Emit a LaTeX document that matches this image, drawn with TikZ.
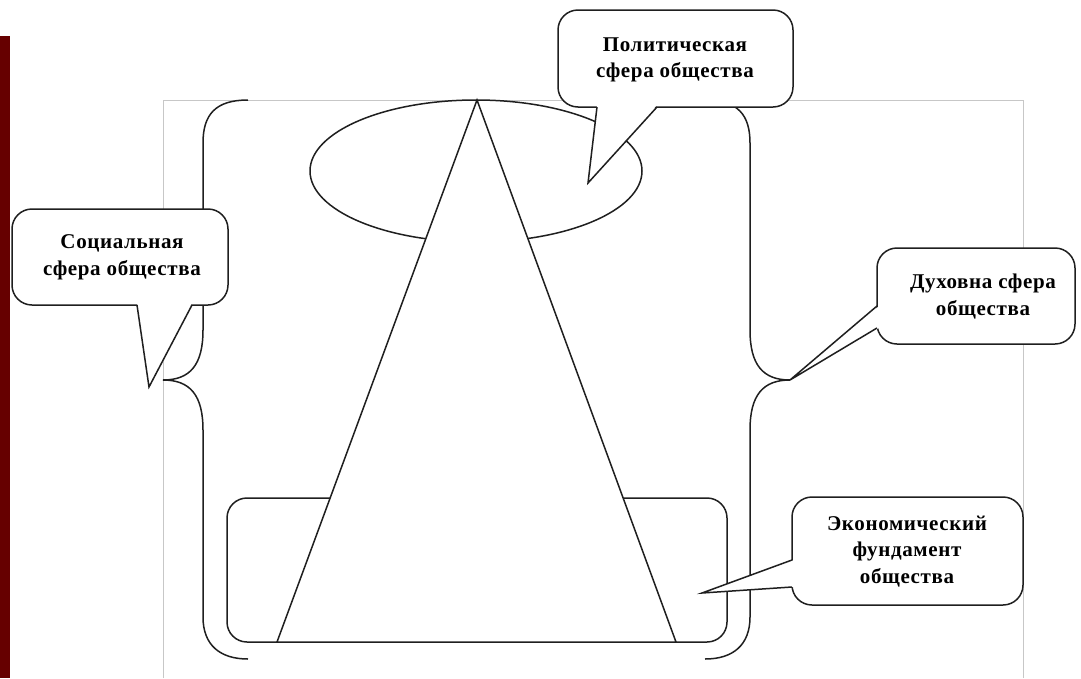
\documentclass[tikz,border=0pt]{standalone}
\usepackage{fontspec}
\setmainfont{Liberation Serif}
\begin{document}
\begin{tikzpicture}[x=1pt,y=-1pt,
  ln/.style={line width=1.5pt,draw=black!88},
  frame/.style={line width=1pt,draw=black!22},
  box/.style={ln,fill=white,rounded corners=20pt},
  lbl/.style={align=center,font=\bfseries\fontsize{21}{26.5}\selectfont\addfontfeature{LetterSpace=3}}]
\useasboundingbox (0,0) rectangle (1081,678);
\fill[white] (0,0) rectangle (1081,678);
% red bar
\fill[fill={rgb,255:red,102;green,0;blue,0}] (0,36) rectangle (10,678);
% gray frame
\draw[frame] (163,678) -- (163,100) -- (1023,100) -- (1023,678);
% ellipse (political sphere)
\draw[ln] (476,171) ellipse [x radius=166pt, y radius=71pt];
% bottom rounded rectangle (economic base)
\draw[ln,rounded corners=20pt] (227,498) rectangle (727,642);
% braces
\draw[ln] (248,100) .. controls (215,100) and (203,115) .. (203,143) -- (203,330)
  .. controls (203,365) and (190,380) .. (163,380)
  .. controls (190,380) and (203,395) .. (203,430) -- (203,617)
  .. controls (203,645) and (220,659) .. (248,659);
\draw[ln] (705,100) .. controls (738,100) and (750,115) .. (750,143) -- (750,330)
  .. controls (750,365) and (763,380) .. (790,380)
  .. controls (763,380) and (750,395) .. (750,430) -- (750,617)
  .. controls (750,645) and (733,659) .. (705,659);
% triangle
\draw[ln,fill=white] (477,100) -- (277,642) -- (676,642) -- cycle;
% political callout
\draw[box] (558,10) rectangle (793,107);
\fill[white] (597,105) -- (588,183) -- (657,105) -- cycle;
\draw[ln] (597,107) -- (588,183) -- (657,107);
\node[lbl] (pol) at (675,60) {Политическая\\сфера общества};
% social callout
\draw[box] (12,209) rectangle (228,305);
\fill[white] (137,303) -- (149,387) -- (192,303) -- cycle;
\draw[ln] (137,305) -- (149,387) -- (192,305);
\node[lbl] (soc) at (122,257.5) {Социальная\\сфера общества};
% spiritual callout
\draw[box] (877,248) rectangle (1075,344);
\fill[white] (879,306) -- (790,380) -- (879,328) -- cycle;
\draw[ln] (877,306) -- (790,380) -- (877,328);
\node[lbl] (spi) at (983,296.5) {Духовна сфера\\общества};
% economic callout
\draw[box] (792,497) rectangle (1023,605);
\fill[white] (794,560) -- (702,593) -- (794,587) -- cycle;
\draw[ln] (792,560) -- (702,593) -- (792,587);
\node[lbl] (eco) at (907,551.5) {Экономический\\фундамент\\общества};
\end{tikzpicture}
\end{document}
